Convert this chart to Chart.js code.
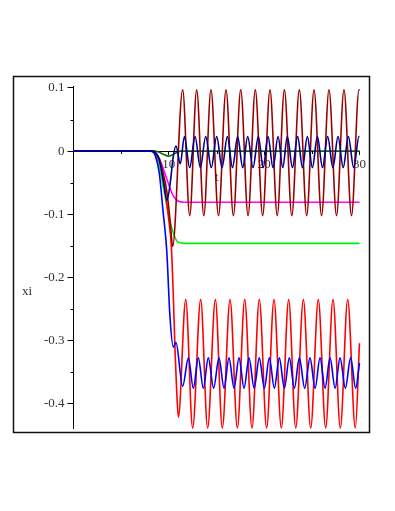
<!DOCTYPE html>
<html>
<head>
<meta charset="utf-8">
<script src="https://cdn.jsdelivr.net/npm/chart.js@4"></script>
<style>
  html, body { margin: 0; padding: 0; background: #fff; }
</style>
</head>
<body>
<canvas id="xi-chart" width="395" height="511"></canvas>
<script>
// values (t, xi) for every curve
const tMaroon  = [0, 8.0, 8.5, 9.0, 9.4, 9.75, 10.0, 10.2, 10.4, 11.45, 12.19, 12.92, 13.67, 14.42, 15.21, 16.0, 16.77, 17.54, 18.31, 19.07, 19.84, 20.61, 21.37, 22.12, 22.9, 23.69, 24.46, 25.23, 26.02, 26.8, 27.59, 28.37, 29.16, 29.95, 30];
const xiMaroon = [0, 0, -0.002, -0.012, -0.035, -0.06, -0.09, -0.122, -0.151, 0.097, -0.102, 0.097, -0.102, 0.097, -0.102, 0.097, -0.102, 0.097, -0.102, 0.097, -0.102, 0.097, -0.102, 0.097, -0.102, 0.097, -0.102, 0.097, -0.102, 0.097, -0.102, 0.097, -0.102, 0.097, 0.096];

const tNavy  = [0, 8.3, 8.7, 9.1, 9.45, 9.8, 10.15, 10.45, 10.75, 11.2, 11.63, 12.19, 12.75, 13.31, 13.87, 14.45, 15.02, 15.58, 16.14, 16.68, 17.22, 17.75, 18.27, 18.83, 19.39, 19.9, 20.4, 20.93, 21.46, 21.95, 22.43, 22.97, 23.51, 24.02, 24.53, 25.06, 25.58, 26.12, 26.66, 27.21, 27.75, 28.29, 28.83, 29.39, 29.95, 30];
const xiNavy = [0, 0, -0.004, -0.02, -0.05, -0.078, -0.05, -0.01, 0.008, -0.02, 0.023, -0.026, 0.023, -0.026, 0.023, -0.026, 0.023, -0.026, 0.023, -0.026, 0.023, -0.026, 0.023, -0.026, 0.023, -0.026, 0.023, -0.026, 0.023, -0.026, 0.023, -0.026, 0.023, -0.026, 0.023, -0.026, 0.023, -0.026, 0.023, -0.026, 0.023, -0.026, 0.023, -0.026, 0.023, 0.023];

const tBlue  = [0, 8.2, 8.6, 9.0, 9.4, 9.78, 10.12, 10.47, 10.75, 11.45, 12.05, 12.57, 13.09, 13.62, 14.14, 14.7, 15.26, 15.79, 16.31, 16.84, 17.36, 17.89, 18.41, 18.95, 19.49, 20.02, 20.54, 21.07, 21.59, 22.12, 22.64, 23.17, 23.69, 24.25, 24.81, 25.34, 25.86, 26.39, 26.91, 27.44, 27.96, 28.52, 29.07, 29.6, 30];
const xiBlue = [0, 0, -0.008, -0.035, -0.096, -0.157, -0.262, -0.31, -0.303, -0.372, -0.327, -0.375, -0.327, -0.375, -0.327, -0.375, -0.327, -0.375, -0.327, -0.375, -0.327, -0.375, -0.327, -0.375, -0.327, -0.375, -0.327, -0.375, -0.327, -0.375, -0.327, -0.375, -0.327, -0.375, -0.327, -0.375, -0.327, -0.375, -0.327, -0.375, -0.327, -0.375, -0.327, -0.375, -0.335];

const tRed  = [0, 8.2, 8.6, 9.0, 9.57, 9.98, 10.26, 10.45, 10.65, 10.82, 11.0, 11.77, 12.5, 13.34, 14.07, 14.88, 15.61, 16.42, 17.19, 17.96, 18.72, 19.49, 20.26, 21.03, 21.8, 22.57, 23.31, 24.11, 24.88, 25.68, 26.45, 27.22, 27.99, 28.76, 29.56, 30];
const xiRed = [0, 0, -0.004, -0.015, -0.059, -0.107, -0.15, -0.22, -0.315, -0.378, -0.421, -0.235, -0.438, -0.235, -0.438, -0.235, -0.438, -0.235, -0.438, -0.235, -0.438, -0.235, -0.438, -0.235, -0.438, -0.235, -0.438, -0.235, -0.438, -0.235, -0.438, -0.235, -0.438, -0.235, -0.438, -0.304];

const tMagenta  = [0, 8.3, 8.7, 9.0, 9.4, 9.9, 10.44, 10.96, 11.6, 30];
const xiMagenta = [0, 0, -0.004, -0.012, -0.027, -0.049, -0.07, -0.079, -0.081, -0.081];

const tGreen  = [0, 8.2, 8.58, 9.04, 9.39, 9.91, 10.44, 10.96, 11.66, 30];
const xiGreen = [0, 0, -0.006, -0.027, -0.054, -0.096, -0.128, -0.144, -0.146, -0.146];

const tDarkGreen  = [0, 8.6, 9.3, 10.0, 10.6, 11.2, 30];
const xiDarkGreen = [0, 0, -0.004, -0.008, -0.004, 0, 0];

// axes
const xTickValues = [10, 20, 30];
const xTickLabels = ['10', '20', '30'];
const xMinorTicks = [5, 15, 25];
const yTickValues = [-0.4, -0.3, -0.2, -0.1, 0, 0.1];
const yTickLabels = ['-0.4', '-0.3', '-0.2', '-0.1', '0', '0.1'];
const yMinorTicks = [-0.35, -0.25, -0.15, -0.05, 0.05];
const xTitle = 't';
const yTitle = 'xi';

const pts = (ts, vs) => ts.map((t, i) => ({ x: t, y: vs[i] }));
const font = { family: 'Liberation Serif', size: 13 };

function curve(ts, vs, color) {
    return {
        data: pts(ts, vs),
        borderColor: color,
        borderWidth: 1.6,
        pointRadius: 0,
        cubicInterpolationMode: 'monotone',
        fill: false,
        clip: 6
    };
}

// extra bits: minor ticks, the frame and the "xi" label
const extras = {
    id: 'extras',
    afterDraw(chart) {
        const { ctx, scales: { x, y } } = chart;
        const ax = x.getPixelForValue(0);
        const ay = Math.round(y.getPixelForValue(0));
        ctx.save();
        ctx.strokeStyle = '#000';
        ctx.lineWidth = 1;
        ctx.beginPath();
        yMinorTicks.forEach(v => {
            const py = Math.round(y.getPixelForValue(v)) + 0.5;
            ctx.moveTo(ax - 3, py);
            ctx.lineTo(ax, py);
        });
        xMinorTicks.forEach(v => {
            const px = Math.round(x.getPixelForValue(v)) + 0.5;
            ctx.moveTo(px, ay);
            ctx.lineTo(px, ay + 3);
        });
        ctx.stroke();

        ctx.lineWidth = 1.5;
        ctx.strokeStyle = '#111';
        ctx.strokeRect(13.5, 76.5, 356, 356);

        ctx.fillStyle = '#333';
        ctx.font = '13px "Liberation Serif"';
        ctx.textAlign = 'center';
        ctx.textBaseline = 'middle';
        ctx.fillText(yTitle, 27, 292);
        ctx.restore();
    }
};

const ctx = document.getElementById('xi-chart').getContext('2d');
const myChart = new Chart(ctx, {
    type: 'line',
    data: {
        datasets: [
            curve(tNavy, xiNavy, '#00008c'),
            curve(tBlue, xiBlue, '#0000ff'),
            curve(tMaroon, xiMaroon, '#9a0000'),
            curve(tRed, xiRed, '#ff0000'),
            curve(tDarkGreen, xiDarkGreen, '#007000'),
            curve(tMagenta, xiMagenta, '#ff00ff'),
            curve(tGreen, xiGreen, '#00ee00')
        ]
    },
    options: {
        responsive: false,
        animation: false,
        devicePixelRatio: 1,
        layout: { padding: { left: 0, right: 35.5, top: 86, bottom: 83 } },
        plugins: { legend: { display: false }, tooltip: { enabled: false } },
        scales: {
            x: {
                type: 'linear',
                min: 0,
                max: 30,
                position: { y: 0 },
                z: 1,
                border: { display: true, color: '#000', width: 1 },
                grid: { drawOnChartArea: false, drawTicks: true, tickLength: 3, color: '#000' },
                afterBuildTicks: s => { s.ticks = xTickValues.map(v => ({ value: v })); },
                ticks: {
                    font: font,
                    color: '#333',
                    padding: 3,
                    maxRotation: 0,
                    callback: (v, i) => xTickLabels[i]
                },
                title: { display: true, text: xTitle, font: font, color: '#333', padding: { top: -6, bottom: 0 } }
            },
            y: {
                type: 'linear',
                min: -0.438,
                max: 0.103,
                position: 'left',
                z: 1,
                afterFit: s => { s.width = 73.5; },
                border: { display: true, color: '#000', width: 1 },
                grid: { drawOnChartArea: false, drawTicks: true, tickLength: 6, color: '#000' },
                afterBuildTicks: s => { s.ticks = yTickValues.map(v => ({ value: v })); },
                ticks: {
                    font: font,
                    color: '#333',
                    padding: 3,
                    callback: (v, i) => yTickLabels[i]
                }
            }
        }
    },
    plugins: [extras]
});
</script>
</body>
</html>
